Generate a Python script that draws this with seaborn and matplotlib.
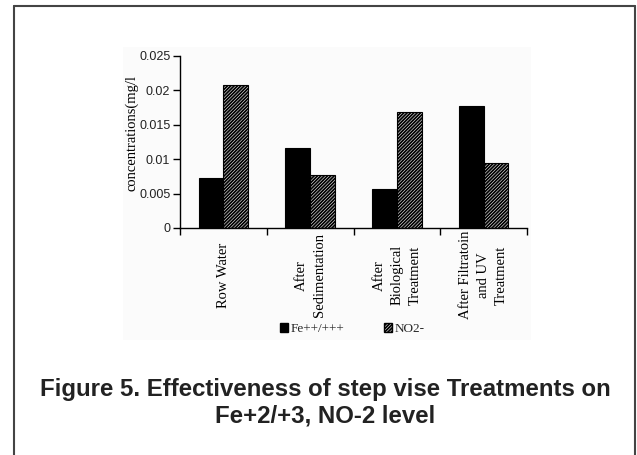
import matplotlib
matplotlib.use("Agg")
import matplotlib.pyplot as plt
from matplotlib.lines import Line2D
from matplotlib.patches import Rectangle, Patch
import seaborn as sns
import pandas as pd

steps = ["Row Water", "After\nSedimentation", "After\nBiological\nTreatment",
         "After Filtratoin\nand UV\nTreatment"]
fe_values = [0.0073, 0.0116, 0.0056, 0.0177]
no2_values = [0.0208, 0.0077, 0.0169, 0.0094]
series = ["Fe++/+++", "NO2-"]
y_ticks = [0, 0.005, 0.01, 0.015, 0.02, 0.025]
y_tick_labels = ["0", "0.005", "0.01", "0.015", "0.02", "0.025"]
y_label = "concentrations(mg/l"
caption = "Figure 5. Effectiveness of step vise Treatments on\nFe+2/+3, NO-2 level"

df = pd.DataFrame({
    "step": steps * 2,
    "value": fe_values + no2_values,
    "ion": [series[0]] * len(steps) + [series[1]] * len(steps),
})

sns.set_theme(style="white")
plt.rcParams["hatch.linewidth"] = 1.3
HATCH = "//////////"
W, H = 637, 455
fig = plt.figure(figsize=(W / 100, H / 100), dpi=100)
fig.patch.set_facecolor("white")

def fx(px):
    return px / W

def fy(py):
    return 1 - py / H

# light chart-area background
fig.add_artist(Rectangle((fx(123), fy(340)), fx(531) - fx(123), fy(47) - fy(340),
                         transform=fig.transFigure, facecolor="#fbfbfb",
                         edgecolor="none", zorder=0))
# border box (open at bottom)
bc = "#444444"
fig.add_artist(Line2D([fx(14), fx(14)], [fy(6), 0], transform=fig.transFigure, color=bc, lw=1.5))
fig.add_artist(Line2D([fx(635), fx(635)], [fy(6), 0], transform=fig.transFigure, color=bc, lw=1.5))
fig.add_artist(Line2D([fx(14), fx(635)], [fy(6), fy(6)], transform=fig.transFigure, color=bc, lw=1.5))

ax = fig.add_axes([fx(180), fy(228), fx(527) - fx(180), fy(56) - fy(228)])
ax.set_facecolor("none")

sns.barplot(data=df, x="step", y="value", hue="ion", palette=["black", "white"],
            edgecolor="black", linewidth=0.8, width=0.571, gap=0, ax=ax,
            legend=False, saturation=1)
for bar in ax.containers[1]:
    bar.set_hatch(HATCH)

ax.set_xlim(-0.5, 3.5)
ax.set_ylim(0, 0.025)
ax.set_yticks(y_ticks)
ax.set_yticklabels(y_tick_labels, fontfamily="Liberation Sans", fontsize=9, color="#222222")
ax.set_xticks(range(len(steps)))
ax.set_xticklabels(steps, rotation=90, fontfamily="Liberation Serif", fontsize=10.5,
                   va="center", ha="center", linespacing=1.5, color="black")
ax.tick_params(axis="x", which="major", length=0, pad=34)
ax.set_xticks([-0.5, 0.5, 1.5, 2.5, 3.5], minor=True)
ax.tick_params(axis="x", which="minor", length=5, width=1, color="black", direction="out", bottom=True)
ax.tick_params(axis="y", length=5, width=1, color="black", direction="out", left=True, pad=2)
ax.set_xlabel("")
ax.set_ylabel(y_label, fontfamily="Liberation Serif", fontsize=10.5, color="black")
ax.yaxis.set_label_coords(-0.12, 0.55)
for s in ["top", "right"]:
    ax.spines[s].set_visible(False)
for s in ["left", "bottom"]:
    ax.spines[s].set_color("black")
    ax.spines[s].set_linewidth(1)

handles = [Patch(facecolor="black", edgecolor="black", label=series[0]),
           Patch(facecolor="white", edgecolor="black", hatch=HATCH, label=series[1])]
fig.legend(handles=handles, loc="center", bbox_to_anchor=(fx(352), fy(329)), ncol=2,
           frameon=False, handlelength=0.6, handleheight=0.6, handletextpad=0.2,
           columnspacing=3.0, prop={"family": "Liberation Serif", "size": 9.5})

fig.text(fx(325), fy(403), caption, ha="center", va="center", fontfamily="Liberation Sans",
         fontweight="bold", fontsize=17.3, color="#222222", linespacing=1.2)

fig.savefig("out.png", dpi=100)
